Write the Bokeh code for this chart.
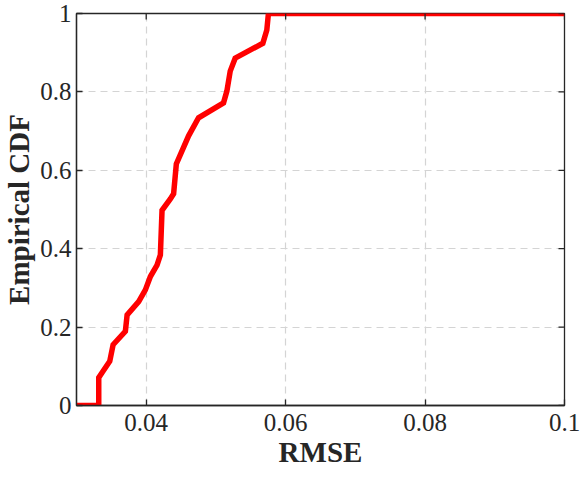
import math
from bokeh.plotting import figure
from bokeh.models import FixedTicker, Range1d
from bokeh.embed import file_html
from bokeh.resources import INLINE

rmse = [0.0300, 0.03319, 0.03319, 0.03368, 0.03477, 0.03525, 0.03701, 0.03726,
        0.03892, 0.03988, 0.04060, 0.04155, 0.04203, 0.04227, 0.04346, 0.04393,
        0.04432, 0.04608, 0.04751, 0.05109, 0.05157, 0.05205, 0.05276, 0.05673,
        0.05730, 0.05753, 0.1000]
cdf = [0.0, 0.0, 0.071, 0.084, 0.113, 0.155, 0.189, 0.231,
       0.265, 0.295, 0.329, 0.358, 0.384, 0.498, 0.527, 0.540,
       0.616, 0.688, 0.734, 0.772, 0.802, 0.853, 0.886, 0.924,
       0.958, 1.0, 1.0]

x_ticks = [0.04, 0.06, 0.08, 0.1]
x_labels = {0.04: "0.04", 0.06: "0.06", 0.08: "0.08", 0.1: "0.1"}
y_ticks = [0, 0.2, 0.4, 0.6, 0.8, 1]
y_labels = {0: "0", 0.2: "0.2", 0.4: "0.4", 0.6: "0.6", 0.8: "0.8", 1: "1"}

FONT = "Liberation Serif"
DARK = "#262626"

p = figure(width=580, height=470, output_backend="svg", toolbar_location=None,
           x_range=Range1d(0.03, 0.1), y_range=Range1d(0, 1),
           min_border_left=76, min_border_right=16, min_border_top=13, min_border_bottom=62)
p.background_fill_color = "white"
p.border_fill_color = "white"
p.outline_line_color = DARK
p.outline_line_width = 1.3

for g in (p.xgrid, p.ygrid):
    g.grid_line_color = "#d4d4d4"
    g.grid_line_dash = "7 5"
    g.grid_line_width = 1.2

p.line(rmse, cdf, line_color="#ff0000", line_width=5.5, line_join="miter")

# ticks on the top and right edges of the box, pointing inward
p.ray(x=x_ticks, y=[1] * len(x_ticks), length=6, length_units="screen",
      angle=-math.pi / 2, line_color=DARK, line_width=1.3)
p.ray(x=[0.1] * len(y_ticks), y=y_ticks, length=6, length_units="screen",
      angle=math.pi, line_color=DARK, line_width=1.3)

for ax in p.xaxis:
    ax.ticker = FixedTicker(ticks=x_ticks)
    ax.major_label_overrides = x_labels
    ax.axis_label = "RMSE"
    ax.major_label_standoff = 8
    ax.axis_label_standoff = 2
for ax in p.yaxis:
    ax.ticker = FixedTicker(ticks=y_ticks)
    ax.major_label_overrides = y_labels
    ax.axis_label = "Empirical CDF"
    ax.major_label_standoff = 5
    ax.axis_label_standoff = 2

for ax in list(p.xaxis) + list(p.yaxis):
    ax.axis_line_color = DARK
    ax.axis_line_width = 1.3
    ax.major_tick_line_color = DARK
    ax.major_tick_line_width = 1.3
    ax.major_tick_in = 6
    ax.major_tick_out = 0
    ax.minor_tick_line_color = None
    ax.major_label_text_font = FONT
    ax.major_label_text_font_size = "25px"
    ax.major_label_text_color = DARK
    ax.axis_label_text_font = FONT
    ax.axis_label_text_font_size = "29px"
    ax.axis_label_text_font_style = "bold"
    ax.axis_label_text_color = DARK

open("out.html", "w").write(file_html(p, INLINE))
